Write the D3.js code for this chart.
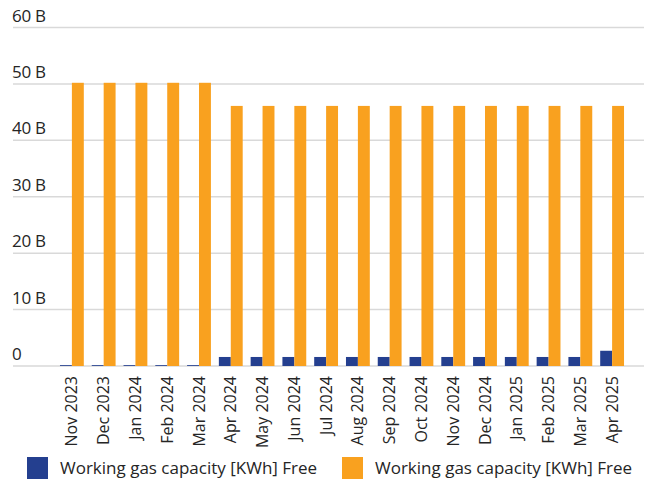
<!DOCTYPE html>
<html>
<head>
<meta charset="utf-8">
<script src="https://cdn.jsdelivr.net/npm/d3@7"></script>
<style>
  body { margin: 0; background: #fff; }
  svg { display: block; font-family: "Open Sans", "Noto Sans", sans-serif; }
</style>
</head>
<body>
<div id="chart"></div>
<script>
const months = ['Nov 2023', 'Dec 2023', 'Jan 2024', 'Feb 2024', 'Mar 2024', 'Apr 2024', 'May 2024',
  'Jun 2024', 'Jul 2024', 'Aug 2024', 'Sep 2024', 'Oct 2024', 'Nov 2024', 'Dec 2024',
  'Jan 2025', 'Feb 2025', 'Mar 2025', 'Apr 2025'];
const blueValues = [0.15, 0.15, 0.15, 0.15, 0.15, 1.6, 1.6, 1.6, 1.6, 1.6, 1.6, 1.6, 1.6, 1.6, 1.6, 1.6, 1.6, 2.7];
const orangeValues = [50.2, 50.2, 50.2, 50.2, 50.2, 46.1, 46.1, 46.1, 46.1, 46.1, 46.1, 46.1, 46.1, 46.1, 46.1, 46.1, 46.1, 46.1];
const yTicks = [0, 10, 20, 30, 40, 50, 60];
const seriesNames = ['Working gas capacity [KWh] Free', 'Working gas capacity [KWh] Free'];
const colors = ['#243f8f', '#f9a11f'];

const width = 645, height = 481;
const svg = d3.select('#chart').append('svg')
  .attr('width', width)
  .attr('height', height);

const y = d3.scaleLinear().domain([0, 60]).range([366, 27.5]);
const x = d3.scaleBand().domain(months).range([56, 628])
  .paddingInner(0.25).paddingOuter(0.125);
const xs = d3.scaleBand().domain([0, 1]).range([0, x.bandwidth()]);

// gridlines + tick labels
const grid = svg.append('g');
grid.selectAll('line')
  .data(yTicks)
  .join('line')
  .attr('x1', 13).attr('x2', 644)
  .attr('y1', d => y(d)).attr('y2', d => y(d))
  .attr('stroke', '#d9d9d9')
  .attr('stroke-width', 1.5);
grid.selectAll('text')
  .data(yTicks)
  .join('text')
  .attr('x', 12)
  .attr('y', d => y(d) - 6)
  .attr('font-size', 17)
  .attr('letter-spacing', -0.3)
  .attr('fill', '#252525')
  .text(d => d === 0 ? '0' : `${d} B`);

// bars
const groups = svg.append('g')
  .selectAll('g')
  .data(months)
  .join('g')
  .attr('transform', d => `translate(${x(d)},0)`);

groups.append('rect')
  .attr('x', xs(0))
  .attr('width', xs.bandwidth())
  .attr('y', (d, i) => y(blueValues[i]))
  .attr('height', (d, i) => y(0) - y(blueValues[i]))
  .attr('fill', colors[0]);

groups.append('rect')
  .attr('x', xs(1))
  .attr('width', xs.bandwidth())
  .attr('y', (d, i) => y(orangeValues[i]))
  .attr('height', (d, i) => y(0) - y(orangeValues[i]))
  .attr('fill', colors[1]);

// month labels
svg.append('g')
  .selectAll('text')
  .data(months)
  .join('text')
  .attr('transform', d => `translate(${x(d) + x.bandwidth() / 2 + 5.5},376) rotate(-90)`)
  .attr('text-anchor', 'end')
  .attr('font-size', 16)
  .attr('fill', '#252525')
  .text(d => d);

// legend
const legendX = [27, 342];
const legend = svg.append('g')
  .selectAll('g')
  .data(seriesNames)
  .join('g')
  .attr('transform', (d, i) => `translate(${legendX[i]},457)`);
legend.append('rect')
  .attr('width', 21).attr('height', 22)
  .attr('fill', (d, i) => colors[i]);
legend.append('text')
  .attr('x', 33).attr('y', 17)
  .attr('font-size', 17)
  .attr('fill', '#252525')
  .text(d => d);
</script>
</body>
</html>
